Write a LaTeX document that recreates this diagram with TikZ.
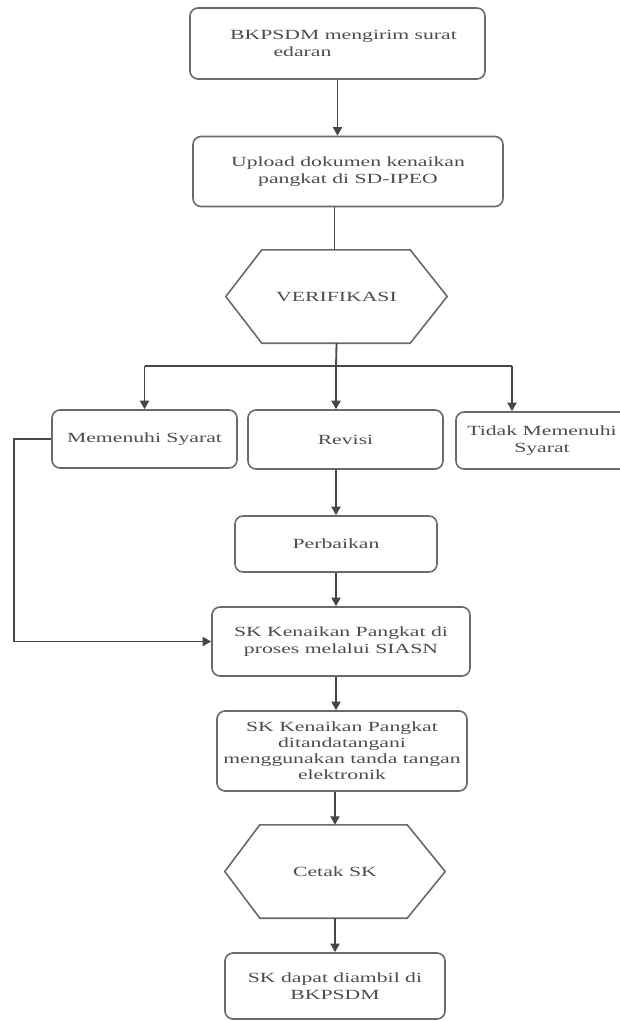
\documentclass[tikz,border=0pt]{standalone}
\usepackage{fontspec}
\setmainfont{Liberation Serif}[FakeStretch=1.55]
\usetikzlibrary{arrows.meta}
\definecolor{ink}{HTML}{4C4C4C}
\definecolor{edge}{HTML}{6A6A6A}
\definecolor{wire}{HTML}{474747}
\begin{document}
\begin{tikzpicture}[x=1pt,y=-1pt,
  box/.style={draw=edge, line width=1.6pt, rounded corners=8pt, fill=white,
    align=center, inner sep=2pt, text=ink,
    font=\fontsize{14pt}{17pt}\selectfont},
  hexbox/.style={draw=none, align=center, inner sep=0pt, text=ink,
    font=\fontsize{14pt}{17pt}\selectfont},
  hexline/.style={draw=edge, line width=1.6pt, line join=miter},
  wireline/.style={draw=wire, line width=1.8pt},
  flow/.style={wireline, -{Triangle[width=9pt,length=8.5pt]}}]
\useasboundingbox (0,0) rectangle (620,1021);
\clip (0,0) rectangle (620,1021);
\fill[white] (0,0) rectangle (620,1021);

% process boxes
\node[box, minimum width=295pt, minimum height=71pt] (b1) at (337.5,43.5)
  {\hspace*{12pt}BKPSDM mengirim surat\\edaran\hspace*{70pt}};
\node[box, minimum width=310pt, minimum height=70pt] (b2) at (348,171.5)
  {Upload dokumen kenaikan\\pangkat di SD-IPEO};
\node[hexbox, minimum width=221pt, minimum height=93pt] (ver) at (336.5,296.5)
  {VERIFIKASI};
\node[box, minimum width=185pt, minimum height=58pt] (ms) at (144.5,439)
  {Memenuhi Syarat};
\node[box, minimum width=195pt, minimum height=59pt] (rev) at (345.5,439.5)
  {Revisi};
\node[box, minimum width=172pt, minimum height=57pt] (tms) at (542,440.5)
  {Tidak Memenuhi\\Syarat};
\node[box, minimum width=202pt, minimum height=56pt] (perb) at (336,544)
  {Perbaikan};
\node[box, minimum width=258pt, minimum height=69pt] (sk1) at (341,641.5)
  {SK Kenaikan Pangkat di\\proses melalui SIASN};
\node[box, minimum width=250pt, minimum height=80pt, inner sep=1pt,
  font=\fontsize{14pt}{16pt}\selectfont] (sk2) at (342,751)
  {SK Kenaikan Pangkat\\ditandatangani\\menggunakan tanda tangan\\elektronik};
\node[hexbox, minimum width=220pt, minimum height=93pt] (cetak) at (335,871.5)
  {Cetak SK};
\node[box, minimum width=220pt, minimum height=66pt] (last) at (335,986)
  {SK dapat diambil di\\BKPSDM};

% hexagon outlines
\draw[hexline] (ver.west) -- ([xshift=36pt]ver.north west)
  -- ([xshift=-37pt]ver.north east) -- (ver.east)
  -- ([xshift=-37pt]ver.south east) -- ([xshift=36pt]ver.south west) -- cycle;
\draw[hexline] (cetak.west) -- ([xshift=35pt]cetak.north west)
  -- ([xshift=-38pt]cetak.north east) -- (cetak.east)
  -- ([xshift=-38pt]cetak.south east) -- ([xshift=35pt]cetak.south west) -- cycle;

% branching points
\coordinate (split) at (336,366);
\coordinate (tmsin) at (512,366);

% connectors
\draw[flow] (b1.south) -- (b1.south |- b2.north);
\draw[wireline] ([xshift=-2pt]ver.north |- b2.south) -- ([xshift=-2pt]ver.north);
\draw[wireline] (ver.south) -- (split);
\draw[wireline] (ms.north |- split) -- (tmsin);
\draw[flow] (ms.north |- split) -- (ms.north);
\draw[flow] (split) -- (split |- rev.north);
\draw[flow] (tmsin) -- (tmsin |- tms.north);
\draw[flow] (ms.west) -- ++(-37pt,0) |- (sk1.west);
\draw[flow] (perb.north |- rev.south) -- (perb.north);
\draw[flow] (perb.south) -- (perb.south |- sk1.north);
\draw[flow] ([xshift=-5pt]sk1.south) -- ([xshift=-5pt]sk1.south |- sk2.north);
\draw[flow] (cetak.north |- sk2.south) -- (cetak.north);
\draw[flow] (cetak.south) -- (last.north);
\end{tikzpicture}
\end{document}
